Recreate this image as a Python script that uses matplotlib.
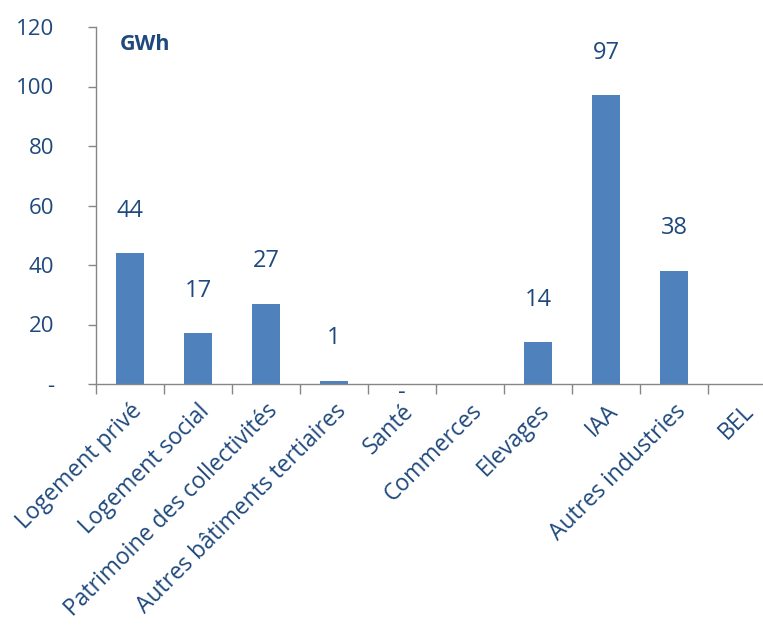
import numpy as np
import matplotlib
matplotlib.use("Agg")
import matplotlib.pyplot as plt

categories = ["Logement privé", "Logement social", "Patrimoine des collectivités",
              "Autres bâtiments tertiaires", "Santé", "Commerces", "Elevages",
              "IAA", "Autres industries", "BEL"]
values = [44, 17, 27, 1, 0, 0, 14, 97, 38, 0]
value_labels = ["44", "17", "27", "1", "-", "", "14", "97", "38", ""]
y_ticks = [0, 20, 40, 60, 80, 100, 120]
y_tick_labels = ["-", "20", "40", "60", "80", "100", "120"]
unit = "GWh"

BAR = "#4F81BD"
TXT = "#1F497D"
AXIS = "#868686"

plt.rcParams["font.family"] = ["Open Sans", "DejaVu Sans"]

fig = plt.figure(figsize=(7.63, 6.26), dpi=100)
ax = fig.add_axes([96 / 763, 242 / 626, 680 / 763, 357 / 626])

x = np.arange(len(categories))
ax.bar(x, values, width=0.4, color=BAR, zorder=2)

for xi, v, lab in zip(x, values, value_labels):
    if not lab:
        continue
    if v == 0:
        ax.annotate(lab, (xi, 0), xytext=(0, -15), textcoords="offset points",
                    ha="center", va="bottom", color=TXT, fontsize=17)
    else:
        ax.annotate(lab, (xi, v), xytext=(0, 22), textcoords="offset points",
                    ha="center", va="bottom", color=TXT, fontsize=17)

ax.set_xlim(-0.5, len(categories) - 0.5)
ax.set_ylim(0, 120)
ax.set_yticks(y_ticks)
ax.set_yticklabels(y_tick_labels, color=TXT, fontsize=16)
ax.tick_params(axis="y", length=6, width=1, color=AXIS, pad=24)

# category ticks sit between the bars, labels stay under each bar
ax.set_xticks(x)
ax.set_xticklabels(categories, rotation=45, ha="right", rotation_mode="anchor",
                   color=TXT, fontsize=16.5)
ax.set_xticks(np.arange(len(categories) + 1) - 0.5, minor=True)
ax.tick_params(axis="x", which="major", length=0, pad=11)
ax.tick_params(axis="x", which="minor", length=7, width=1, color=AXIS)

for side in ("top", "right"):
    ax.spines[side].set_visible(False)
for side in ("left", "bottom"):
    ax.spines[side].set_color(AXIS)
    ax.spines[side].set_linewidth(1)

ax.text(0.035, 0.95, unit, transform=ax.transAxes, ha="left", va="center",
        color=TXT, fontsize=15.5, fontweight="bold")

fig.savefig("out.png", dpi=100)
